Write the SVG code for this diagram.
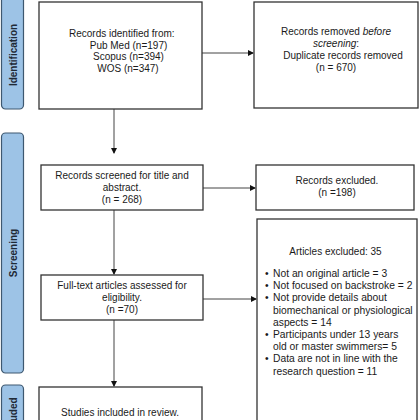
<svg xmlns="http://www.w3.org/2000/svg" width="420" height="420" viewBox="0 0 420 420">
<defs>
<style>
.box{fill:#fff;stroke:#333;stroke-width:1.3}
.side{fill:#9dc3e6;stroke:#3e5870;stroke-width:1.2}
.t{font-family:"Liberation Sans",Arial,sans-serif;font-size:10px;fill:#1a1a1a}
.b{font-size:10.3px}
.c{text-anchor:middle}
.lbl{font-family:"Liberation Sans",Arial,sans-serif;font-size:10px;font-weight:bold;fill:#1f2a36;text-anchor:middle}
.ln{stroke:#444;stroke-width:1;fill:none}
</style>
<marker id="ah" markerWidth="6" markerHeight="6" refX="5" refY="3" orient="auto" markerUnits="userSpaceOnUse">
<path d="M0,0 L6,3 L0,6 Z" fill="#111"/>
</marker>
</defs>
<rect width="420" height="420" fill="#fff"/>
<g id="lbl-identification">
<rect class="side" x="1.5" y="-6" width="22" height="115" rx="4"/>
<text class="lbl" transform="translate(16.5,55) rotate(-90)">Identification</text>
</g>
<g id="lbl-screening">
<rect class="side" x="1.5" y="133" width="22" height="240" rx="4"/>
<text class="lbl" transform="translate(16.5,253) rotate(-90)">Screening</text>
</g>
<g id="lbl-included">
<rect class="side" x="1.5" y="385" width="22" height="70" rx="4"/>
<text class="lbl" transform="translate(16.5,418) rotate(-90)">Included</text>
</g>
<g id="connectors">
<line class="ln" x1="114" y1="109" x2="114" y2="153" marker-end="url(#ah)"/>
<line class="ln" x1="114" y1="210" x2="114" y2="274" marker-end="url(#ah)"/>
<line class="ln" x1="114" y1="320" x2="114" y2="386" marker-end="url(#ah)"/>
<line class="ln" x1="202" y1="53" x2="253" y2="53" marker-end="url(#ah)"/>
<line class="ln" x1="203" y1="188" x2="255" y2="188" marker-end="url(#ah)"/>
<line class="ln" x1="203" y1="299" x2="256" y2="299" marker-end="url(#ah)"/>
</g>
<g id="identified">
<rect class="box" x="39" y="2" width="163" height="107"/>
<text class="t" x="69" y="37">Records identified from:</text>
<text class="t c" x="128.5" y="48.5">Pub Med (n=197)</text>
<text class="t c" x="128.5" y="60">Scopus (n=394)</text>
<text class="t c" x="128" y="71.5">WOS (n=347)</text>
</g>
<g id="removed">
<rect class="box" x="254" y="2" width="164" height="106"/>
<text class="t c" x="336" y="35">Records removed <tspan font-style="italic">before</tspan></text>
<text class="t c" x="336" y="47"><tspan font-style="italic">screening</tspan>:</text>
<text class="t c" x="343" y="59">Duplicate records removed</text>
<text class="t c" x="336" y="71">(n = 670)</text>
</g>
<g id="screened">
<rect class="box" x="41" y="165" width="162" height="45"/>
<text class="t c" x="122" y="179">Records screened for title and</text>
<text class="t c" x="122" y="191">abstract.</text>
<text class="t c" x="122" y="203">(n = 268)</text>
</g>
<g id="excluded">
<rect class="box" x="256" y="165" width="158" height="45"/>
<text class="t c" x="337" y="184">Records excluded.</text>
<text class="t c" x="337" y="196">(n =198)</text>
</g>
<g id="articles-excluded">
<rect class="box" x="257" y="219" width="160" height="215"/>
<text class="t c" x="335.5" y="255">Articles excluded: 35</text>
<text class="t b"><tspan x="265" y="277">•</tspan><tspan x="273" y="277">Not an original article = 3</tspan><tspan x="265" y="289.2">•</tspan><tspan x="273" y="289.2">Not focused on backstroke = 2</tspan><tspan x="265" y="301.4">•</tspan><tspan x="273" y="301.4">Not provide details about</tspan><tspan x="273" y="313.6">biomechanical or physiological</tspan><tspan x="273" y="325.8">aspects = 14</tspan><tspan x="265" y="338">•</tspan><tspan x="273" y="338">Participants under 13 years</tspan><tspan x="273" y="350.2">old or master swimmers= 5</tspan><tspan x="265" y="362.4">•</tspan><tspan x="273" y="362.4">Data are not in line with the</tspan><tspan x="273" y="374.6">research question = 11</tspan></text>
</g>
<g id="fulltext">
<rect class="box" x="41" y="275" width="162" height="45"/>
<text class="t c" x="122" y="289">Full-text articles assessed for</text>
<text class="t c" x="122" y="301">eligibility.</text>
<text class="t c" x="122" y="313">(n =70)</text>
</g>
<g id="included">
<rect class="box" x="39" y="387" width="163" height="60"/>
<text class="t c" x="120" y="416">Studies included in review.</text>
</g>
</svg>
